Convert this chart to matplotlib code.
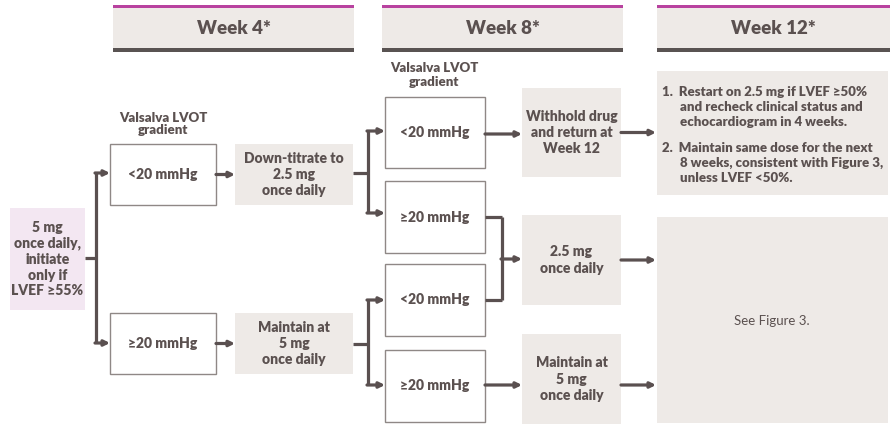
import matplotlib
matplotlib.use('Agg')
import matplotlib.pyplot as plt
from matplotlib.patches import Rectangle

# texts
headers = ['Week 4*', 'Week 8*', 'Week 12*']
start_label = '5 mg\nonce daily,\ninitiate\nonly if\nLVEF \u226555%'
gradient_label = 'Valsalva LVOT\ngradient'
week4_gradients = ['<20 mmHg', '\u226520 mmHg']
week4_actions = ['Down-titrate to\n2.5 mg\nonce daily', 'Maintain at\n5 mg\nonce daily']
week8_gradients = ['<20 mmHg', '\u226520 mmHg', '<20 mmHg', '\u226520 mmHg']
week8_actions = ['Withhold drug\nand return at\nWeek 12', '2.5 mg\nonce daily',
                 'Maintain at\n5 mg\nonce daily']
week12_steps = ['1.  Restart on 2.5 mg if LVEF \u226550%\n      and recheck clinical status and\n      echocardiogram in 4 weeks.',
                '2.  Maintain same dose for the next\n      8 weeks, consistent with Figure 3,\n      unless LVEF <50%.']
week12_other = 'See Figure 3.'

# layout (pixels, y down)
header_x = [(113, 354), (382, 623), (657, 890)]
w4_box_y = [(144, 205), (313, 374)]
w8_box_y = [(97, 168), (181, 253), (264, 336), (350, 422)]
w8_act_y = [(88, 177), (215, 305), (334, 424)]

TXT = '#5b5150'
LINE = '#5a5050'
GRAY = '#eeeae7'
BORDER = '#8f8886'
PINK = '#f3e7f2'
MAG = '#b8429f'

plt.rcParams['font.family'] = ['Lato', 'DejaVu Sans']

fig = plt.figure(figsize=(8.9, 4.24), dpi=100)
ax = fig.add_axes([0, 0, 1, 1])
ax.set_xlim(0, 890)
ax.set_ylim(424, 0)
ax.axis('off')


def box(x0, x1, y0, y1, fc, ec=None):
    ax.add_patch(Rectangle((x0, y0), x1 - x0, y1 - y0, facecolor=fc,
                           edgecolor=ec if ec else 'none', lw=1.0))


def label(x, y, s, size=10, weight='heavy', ls=1.3, ha='center'):
    ax.text(x, y, s, ha=ha, va='center', fontsize=size, fontweight=weight,
            color=TXT, linespacing=ls, multialignment=ha)


def line(xs, ys):
    ax.plot(xs, ys, color=LINE, lw=2.3, solid_capstyle='butt', solid_joinstyle='miter')


def arrow(x0, x1, y):
    ax.annotate('', xy=(x1, y), xytext=(x0, y),
                arrowprops=dict(arrowstyle='-|>', color=LINE, lw=2.3,
                                mutation_scale=8, shrinkA=0, shrinkB=0))


# headers
for (x0, x1), h in zip(header_x, headers):
    box(x0, x1, 8, 48, GRAY)
    ax.add_patch(Rectangle((x0, 5), x1 - x0, 3, facecolor=MAG, edgecolor='none'))
    ax.add_patch(Rectangle((x0, 48), x1 - x0, 3.5, facecolor='#595352', edgecolor='none'))
    label((x0 + x1) / 2, 28, h, size=13.5)

# start box
box(10, 85, 208, 310, PINK)
label(47.5, 259, start_label, size=10, ls=1.25)
line([85, 96], [258, 258])
line([96, 96], [173, 343])
arrow(95, 110, 173)
arrow(95, 110, 343)

# week 4
label(163, 124, gradient_label, size=9.5, ls=1.1)
for (y0, y1), g, a in zip(w4_box_y, week4_gradients, week4_actions):
    yc = (y0 + y1) / 2
    box(110, 216, y0, y1, 'white', BORDER)
    label(163, yc, g)
    arrow(216, 235, yc)
    box(235, 353, y0, y1, GRAY)
    label(294, yc, a, ls=1.3)

# week4 -> week8 brackets
line([353, 368], [173, 173])
line([368, 368], [131, 213])
arrow(367, 385, 131)
arrow(367, 385, 213)
line([353, 368], [344, 344])
line([368, 368], [300, 385])
arrow(367, 385, 300)
arrow(367, 385, 385)

# week 8
label(434, 75, gradient_label, size=9.5, ls=1.1)
for (y0, y1), g in zip(w8_box_y, week8_gradients):
    box(385, 485, y0, y1, 'white', BORDER)
    label(435, (y0 + y1) / 2, g)
for (y0, y1), a in zip(w8_act_y, week8_actions):
    box(522, 621, y0, y1, GRAY)
    label(571.5, (y0 + y1) / 2, a, ls=1.3)
    arrow(621, 656, (y0 + y1) / 2 if y1 < 420 else 385)

arrow(485, 522, 134)
line([485, 502], [217, 217])
line([485, 502], [300, 300])
line([502, 502], [217, 300])
arrow(501, 522, 259)
arrow(485, 522, 385)

# week 12
box(657, 888, 71, 195, GRAY)
label(662, 107, week12_steps[0], size=9.5, ls=1.3, ha='left')
label(662, 163, week12_steps[1], size=9.5, ls=1.3, ha='left')
box(657, 888, 217, 423, GRAY)
label(772, 321, week12_other, size=9.5, weight='normal')

fig.savefig('out.png', dpi=100)
